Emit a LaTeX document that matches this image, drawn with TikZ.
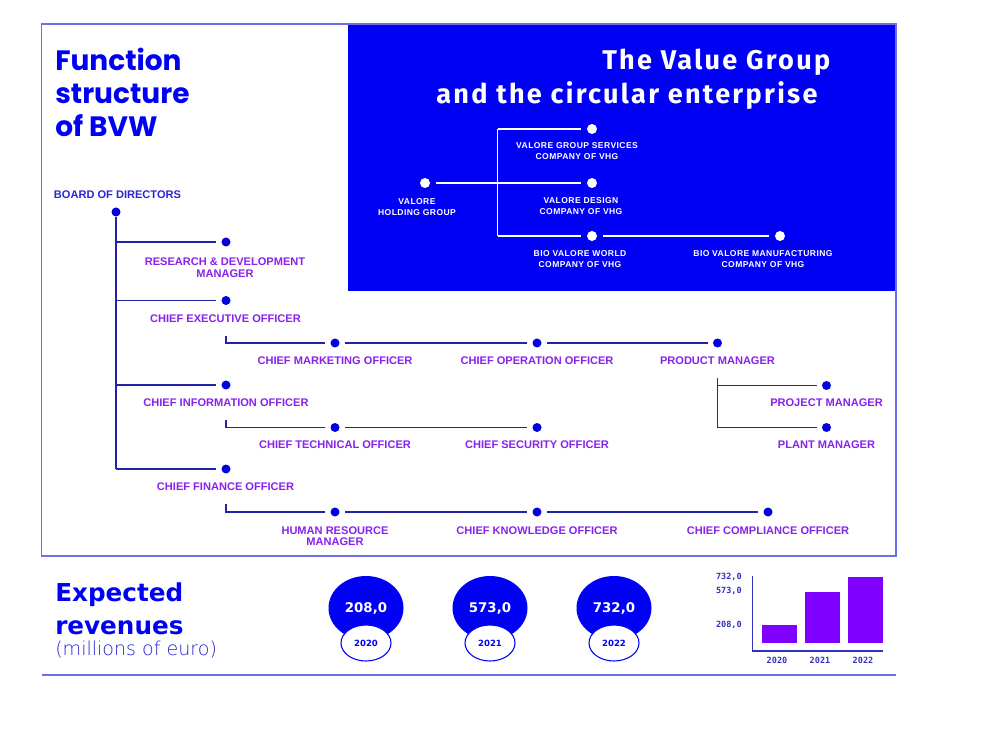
\documentclass[tikz,border=0pt]{standalone}
\usepackage{fontspec}
\setmainfont{Liberation Sans}
\newfontfamily\poppins{Poppins}
\newfontfamily\fira{Fira Sans}[LetterSpace=8.5]
\newfontfamily\djv{DejaVu Sans}
\newfontfamily\djvmono{DejaVu Sans Mono}
\newfontfamily\djvlight{DejaVu Sans ExtraLight}
\newfontfamily\boxfont{Liberation Sans}[LetterSpace=5]
\usetikzlibrary{shapes.geometric}
\definecolor{vblue}{RGB}{0,0,245}
\definecolor{framec}{RGB}{110,110,230}
\definecolor{linec}{RGB}{35,35,170}
\definecolor{labc}{RGB}{135,35,235}
\definecolor{bodc}{RGB}{40,40,210}
\definecolor{dotc}{RGB}{0,0,225}
\definecolor{barc}{RGB}{128,0,255}
\definecolor{axc}{RGB}{50,50,190}
\begin{document}
\begin{tikzpicture}[x=0.75pt,y=-0.75pt,
  dot/.style={circle,fill=dotc,inner sep=0pt,minimum size=6.75pt},
  wdot/.style={circle,fill=white,inner sep=0pt,minimum size=7.5pt},
  lab/.style={font=\fontsize{8.3pt}{8.6pt}\selectfont\bfseries,text=labc,inner sep=0pt,align=center},
  wlab/.style={font=\boxfont\fontsize{6.4pt}{8.25pt}\selectfont\bfseries,text=white,inner sep=0pt,align=center},
  ln/.style={draw=linec,line width=1.1pt},
  conn/.style={ln,shorten >=3.75pt},
  conntwo/.style={conn,shorten <=3.75pt},
  wln/.style={draw=white,line width=1pt},
  wconn/.style={wln,shorten >=4.5pt},
  bigtitle/.style={anchor=base west,inner sep=0pt,text=vblue,font=\poppins\bfseries\fontsize{21pt}{24pt}\selectfont},
  wtitle/.style={anchor=base west,inner sep=0pt,text=white,font=\fira\bfseries\fontsize{20.3pt}{24pt}\selectfont},
  revtitle/.style={anchor=base west,inner sep=0pt,text=vblue,font=\djv\bfseries\fontsize{18.5pt}{22pt}\selectfont},
  bub/.style={ellipse,fill=vblue,inner sep=0pt,minimum width=56.25pt,minimum height=48pt,text=white,font=\djv\bfseries\fontsize{10pt}{12pt}\selectfont},
  yr/.style={ellipse,draw=vblue,line width=0.8pt,fill=white,inner sep=0pt,minimum width=37.5pt,minimum height=27pt,text=vblue,font=\djv\bfseries\fontsize{6.4pt}{8pt}\selectfont},
  ax/.style={inner sep=0pt,text=axc,font=\djvmono\bfseries\fontsize{6.4pt}{8pt}\selectfont}
]
\useasboundingbox (0,0) rectangle (984,730);
\fill[white] (0,0) rectangle (984,730);
% blue box and frame
\fill[vblue] (348,24) rectangle (896,291);
\draw[framec,line width=0.9pt] (41.5,24) rectangle (896,556);
\draw[framec,line width=0.9pt] (41.5,675) -- (896,675);

% titles
\node[bigtitle] (t1) at (55,70.5) {Function};
\node[bigtitle] (t2) at (55,103.5) {structure};
\node[bigtitle] (t3) at (55,137) {of BVW};
\node[wtitle] (v1) at (602,70) {The Value Group};
\node[wtitle] (v2) at (436,103.5) {and the circular enterprise};

% value group chart
\node[wdot] (vhg) at (425,183) {};
\node[wdot] (gsv) at (592,129) {};
\node[wdot] (des) at (592,183) {};
\node[wdot] (bvw) at (592,236) {};
\node[wdot] (bvm) at (780,236) {};
\coordinate (vt) at (497.5,129);
\coordinate (vb) at (497.5,236);
\draw[wconn,shorten <=4.5pt] (vhg) -- (des);
\draw[wln] (vt) -- (vb);
\draw[wconn] (vt) -- (gsv);
\draw[wconn] (vb) -- (bvw);
\draw[wconn,shorten <=4.5pt] (bvw) -- (bvm);
\node[wlab] (lgsv) at (577,151.5) {VALORE GROUP SERVICES\\COMPANY OF VHG};
\node[wlab] (ldes) at (581,206.5) {VALORE DESIGN\\COMPANY OF VHG};
\node[wlab] (lbvw) at (580,259) {BIO VALORE WORLD\\COMPANY OF VHG};
\node[wlab] (lbvm) at (763,259) {BIO VALORE MANUFACTURING\\COMPANY OF VHG};
\node[wlab] (lvhg) at (417,207.5) {VALORE\\HOLDING GROUP};

% function structure
\node[lab,text=bodc] (lbod) at (117.5,194.5) {BOARD OF DIRECTORS};
\node[dot] (bod) at (116,212) {};
\node[dot] (rd) at (226,242) {};
\node[dot] (ceo) at (226,300.5) {};
\node[dot] (cmo) at (335,343) {};
\node[dot] (coo) at (537,343) {};
\node[dot] (pm) at (717.5,343) {};
\node[dot] (prj) at (826.5,385.5) {};
\node[dot] (plt) at (826.5,427.5) {};
\node[dot] (cio) at (226,385) {};
\node[dot] (cto) at (335,427.5) {};
\node[dot] (cso) at (537,427.5) {};
\node[dot] (cfo) at (226,469) {};
\node[dot] (hrm) at (335,512) {};
\node[dot] (cko) at (537,512) {};
\node[dot] (cco) at (768,512) {};

\draw[ln] (bod) -- (bod |- cfo);
\draw[conn] (bod |- rd) -- (rd);
\draw[conn] (bod |- ceo) -- (ceo);
\draw[conn] (bod |- cio) -- (cio);
\draw[conn] (bod |- cfo) -- (cfo);

\coordinate (ceoL) at (226,336.5);
\draw[conn] (ceoL) |- (cmo);
\draw[conntwo] (cmo) -- (coo);
\draw[conntwo] (coo) -- (pm);
\coordinate (pmL) at (717.5,378);
\draw[conn] (pmL) |- (prj);
\draw[conn] (pmL) |- (plt);
\coordinate (cioL) at (226,419.5);
\draw[conn] (cioL) |- (cto);
\draw[conntwo] (cto) -- (cso);
\coordinate (cfoL) at (226,504);
\draw[conn] (cfoL) |- (hrm);
\draw[conntwo] (hrm) -- (cko);
\draw[conntwo] (cko) -- (cco);

\node[lab] (lrd) at (225,267.5) {RESEARCH \& DEVELOPMENT\\MANAGER};
\node[lab] (lceo) at (225.5,318.5) {CHIEF EXECUTIVE OFFICER};
\node[lab] (lcmo) at (335,360.5) {CHIEF MARKETING OFFICER};
\node[lab] (lcoo) at (537,360.5) {CHIEF OPERATION OFFICER};
\node[lab] (lpm) at (717.5,360.5) {PRODUCT MANAGER};
\node[lab] (lprj) at (826.5,402.5) {PROJECT MANAGER};
\node[lab] (lplt) at (826.5,445) {PLANT MANAGER};
\node[lab] (lcio) at (226,402.5) {CHIEF INFORMATION OFFICER};
\node[lab] (lcto) at (335,444.5) {CHIEF TECHNICAL OFFICER};
\node[lab] (lcso) at (537,444.5) {CHIEF SECURITY OFFICER};
\node[lab] (lcfo) at (225.5,487) {CHIEF FINANCE OFFICER};
\node[lab] (lhrm) at (335,536) {HUMAN RESOURCE\\MANAGER};
\node[lab] (lcko) at (537,530.5) {CHIEF KNOWLEDGE OFFICER};
\node[lab] (lcco) at (768,530.5) {CHIEF COMPLIANCE OFFICER};

% expected revenues
\node[revtitle] (e1) at (55,601) {Expected};
\node[revtitle] (e2) at (55,634) {revenues};
\node[anchor=base west,inner sep=0pt,text=bodc,font=\djvlight\fontsize{14.3pt}{16pt}\selectfont] (e3) at (55,655) {(millions of euro)};

\node[bub] (b20) at (366,608) {208,0};
\node[yr] (y20) at (366,643) {2020};
\node[bub] (b21) at (490,608) {573,0};
\node[yr] (y21) at (490,643) {2021};
\node[bub] (b22) at (614,608) {732,0};
\node[yr] (y22) at (614,643) {2022};

% bar chart
\draw[axc,line width=0.8pt] (752.5,576) -- (752.5,651) -- (883,651);
\fill[barc] (762,624.5) rectangle (797,643);
\fill[barc] (805,591.5) rectangle (839.5,643);
\fill[barc] (848,576.5) rectangle (883,643);
\node[ax,anchor=east] (a732) at (742,577) {732,0};
\node[ax,anchor=east] (a573) at (742,590.5) {573,0};
\node[ax,anchor=east] (a208) at (742,624.5) {208,0};
\node[ax] (x20) at (777,660) {2020};
\node[ax] (x21) at (820,660) {2021};
\node[ax] (x22) at (863,660) {2022};
\end{tikzpicture}
\end{document}
